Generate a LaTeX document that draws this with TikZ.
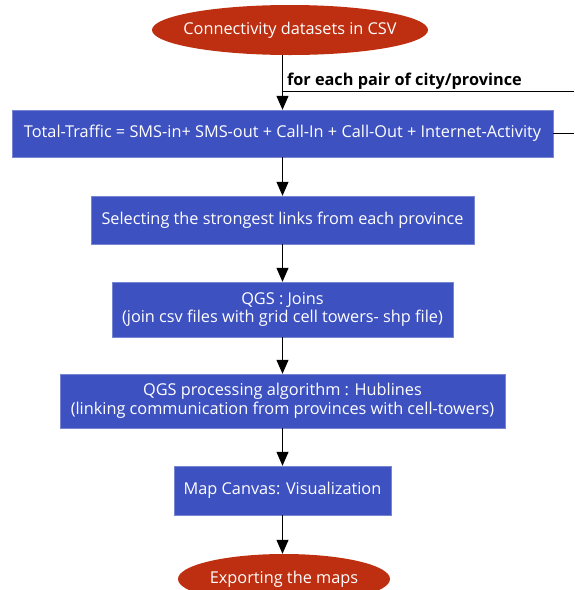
\documentclass[tikz,border=0pt]{standalone}
\usepackage{fontspec}
\setmainfont{Open Sans}
\usetikzlibrary{arrows.meta,shapes.geometric}
\definecolor{boxblue}{RGB}{62,81,192}
\definecolor{ovalred}{RGB}{190,46,16}

\begin{document}
\begin{tikzpicture}[x=1pt,y=-1pt]
        \tikzstyle{every node}=[font=\fontsize{16.3}{18.5}\selectfont, inner sep=2pt]
        \tikzstyle{stepbox}=[fill=boxblue, text=white, draw=boxblue!70!white, align=center, minimum height=48pt]
        \tikzstyle{terminal}=[ellipse, fill=ovalred, text=white, minimum height=50pt, inner xsep=-10pt]
        \tikzstyle{flow}=[draw=black, line width=1pt, -{Triangle[length=14pt,width=12pt]}]
        \useasboundingbox (0,0) rectangle (574,590);
        \clip (0,0) rectangle (574,590);
        \node[terminal, minimum width=276pt] (csv) at (290,30) {Connectivity datasets in CSV};
        \node[stepbox, minimum width=541pt, minimum height=47pt] (total) at (282.5,133.5) {Total-Traffic = SMS-in+ SMS-out + Call-In + Call-Out + Internet-Activity};
        \node[stepbox, minimum width=383pt] (select) at (282.5,220) {Selecting the strongest links from each province};
        \node[stepbox, minimum width=341pt, minimum height=55pt] (joins) at (282.5,309.5) {QGS : Joins\\(join csv files with grid cell towers- shp file)};
        \node[stepbox, minimum width=445pt, minimum height=54pt] (hub) at (282.5,401) {QGS processing algorithm : Hublines\\(linking communication from provinces with cell-towers)};
        \node[stepbox, minimum width=217pt, minimum height=49pt] (canvas) at (282.5,490.5) {Map Canvas: Visualization};
        \node[terminal, minimum width=212pt] (export) at (284,579) {Exporting the maps};
        % loop back from the traffic box
        \coordinate (loopin) at (574,91);
        \coordinate (loopout) at (574,133.5);
        \coordinate (join) at (282.5,91);
        \draw[line width=1pt] (total.east) -- (loopout);
        \draw[line width=1pt] (loopin) -- (join) node[anchor=south west, xshift=2pt, yshift=-1pt, font=\bfseries\fontsize{16.3}{18.5}\selectfont] (pairs) {for each pair of city/province};
        % main flow
        \draw[flow] (csv.south -| total.north) -- (total.north);
        \draw[flow] (total.south) -- (select.north);
        \draw[flow] (select.south) -- (joins.north);
        \draw[flow] (joins.south) -- (hub.north);
        \draw[flow] (hub.south) -- (canvas.north);
        \draw[flow] (canvas.south) -- (canvas.south |- export.north);
\end{tikzpicture}
\end{document}
